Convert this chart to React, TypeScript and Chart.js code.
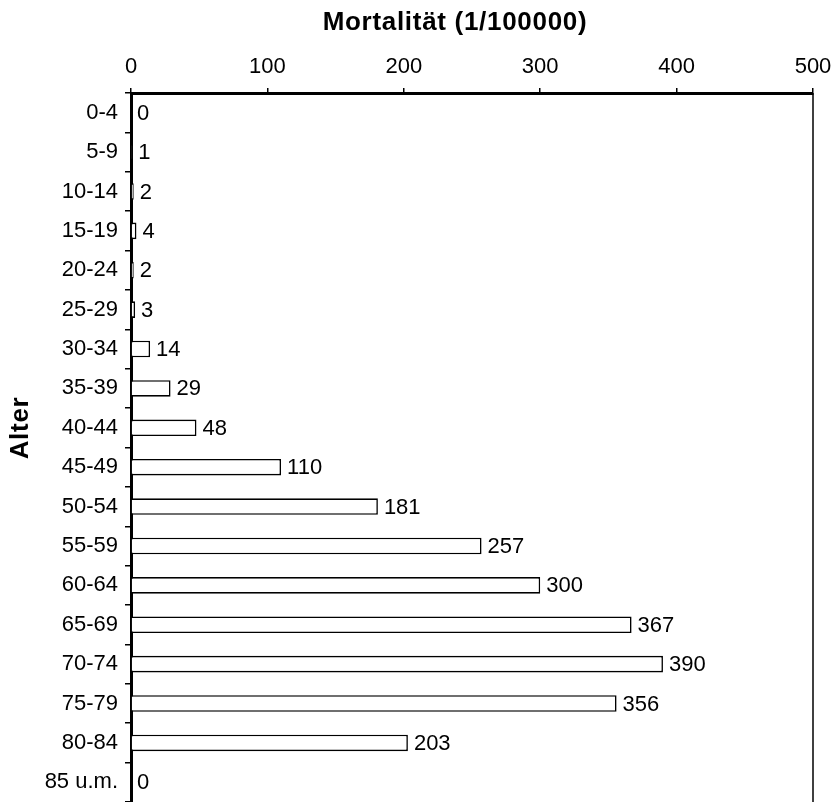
import React, { useEffect, useRef } from "react";
import { Chart, registerables } from "chart.js";

Chart.register(...registerables);

// Age groups and mortality per 100 000
const ageGroups = [
  "0-4", "5-9", "10-14", "15-19", "20-24", "25-29", "30-34", "35-39", "40-44",
  "45-49", "50-54", "55-59", "60-64", "65-69", "70-74", "75-79", "80-84", "85 u.m.",
];
const mortality = [0, 1, 2, 4, 2, 3, 14, 29, 48, 110, 181, 257, 300, 367, 390, 356, 203, 0];
const xTickValues = [0, 100, 200, 300, 400, 500];
const xTitle = "Mortalität (1/100000)";
const yTitle = "Alter";

const FONT = "'Liberation Sans', Arial, Helvetica, sans-serif";
const TITLE_FONT = `bold 26px ${FONT}`;

// Thin frame line on the right edge of the plot area
const rightEdge = {
  id: "rightEdge",
  afterDraw(chart: any) {
    const { ctx, chartArea } = chart;
    ctx.save();
    ctx.strokeStyle = "#000";
    ctx.lineWidth = 1.5;
    ctx.beginPath();
    ctx.moveTo(chartArea.right, chartArea.top);
    ctx.lineTo(chartArea.right, chartArea.bottom);
    ctx.stroke();
    ctx.restore();
  },
};

// Bold axis titles
const axisTitles = {
  id: "axisTitles",
  afterDraw(chart: any) {
    const { ctx } = chart;
    ctx.save();
    ctx.fillStyle = "#000";
    ctx.font = TITLE_FONT;
    (ctx as any).letterSpacing = "0.7px";
    ctx.textAlign = "center";
    ctx.textBaseline = "middle";
    ctx.fillText(xTitle, 455, 23);
    ctx.translate(21, 428);
    ctx.rotate(-Math.PI / 2);
    ctx.fillText(yTitle, 0, 0);
    ctx.restore();
  },
};

// Value labels to the right of each bar
const valueLabels = {
  id: "valueLabels",
  afterDatasetsDraw(chart: any) {
    const { ctx } = chart;
    const meta = chart.getDatasetMeta(0);
    const values = chart.data.datasets[0].data as number[];
    ctx.save();
    ctx.fillStyle = "#000";
    ctx.font = `22px ${FONT}`;
    ctx.textAlign = "left";
    ctx.textBaseline = "middle";
    meta.data.forEach((bar: any, i: number) => {
      ctx.fillText(String(values[i]), bar.x + 6, bar.y + 1);
    });
    ctx.restore();
  },
};

export default function App() {
  const canvasRef = useRef<HTMLCanvasElement | null>(null);

  useEffect(() => {
    document.body.style.margin = "0";
    const canvas = canvasRef.current;
    if (!canvas) return;
    const chart = new Chart(canvas, {
      type: "bar",
      data: {
        labels: ageGroups,
        datasets: [
          {
            data: mortality,
            backgroundColor: "#ffffff",
            borderColor: "#000000",
            borderWidth: 1.6,
            barPercentage: 0.42,
            categoryPercentage: 1,
          },
        ],
      },
      options: {
        indexAxis: "y",
        responsive: false,
        animation: false,
        layout: { padding: { left: 0, right: 24, top: 0, bottom: 0 } },
        plugins: {
          legend: { display: false },
          tooltip: { enabled: false },
        },
        scales: {
          x: {
            position: "top",
            min: 0,
            max: 500,
            afterBuildTicks: (scale: any) => {
              scale.ticks = xTickValues.map((v) => ({ value: v }));
            },
            afterFit: (scale: any) => {
              scale.height = 93;
              scale.paddingLeft = 0;
              scale.paddingRight = 0;
            },
            ticks: {
              color: "#000",
              font: { family: FONT, size: 22 },
              padding: 8,
              maxRotation: 0,
            },
            grid: {
              drawOnChartArea: false,
              drawTicks: true,
              tickLength: 5,
              color: "#000",
              lineWidth: 1.5,
            },
            border: { display: true, color: "#000", width: 3 },
          },
          y: {
            afterFit: (scale: any) => {
              scale.width = 131;
              scale.paddingTop = 0;
              scale.paddingBottom = 0;
            },
            ticks: {
              color: "#000",
              font: { family: FONT, size: 22 },
              padding: 7,
            },
            grid: {
              drawOnChartArea: false,
              drawTicks: true,
              offset: true,
              tickLength: 6,
              color: "#000",
              lineWidth: 1.5,
            },
            border: { display: true, color: "#000", width: 3 },
          },
        },
      },
      plugins: [rightEdge, axisTitles, valueLabels],
    });
    return () => chart.destroy();
  }, []);

  return (
    <div style={{ position: "absolute", left: 0, top: 0, width: 837, height: 802, background: "#fff" }}>
      <canvas ref={canvasRef} width={837} height={802} />
    </div>
  );
}
